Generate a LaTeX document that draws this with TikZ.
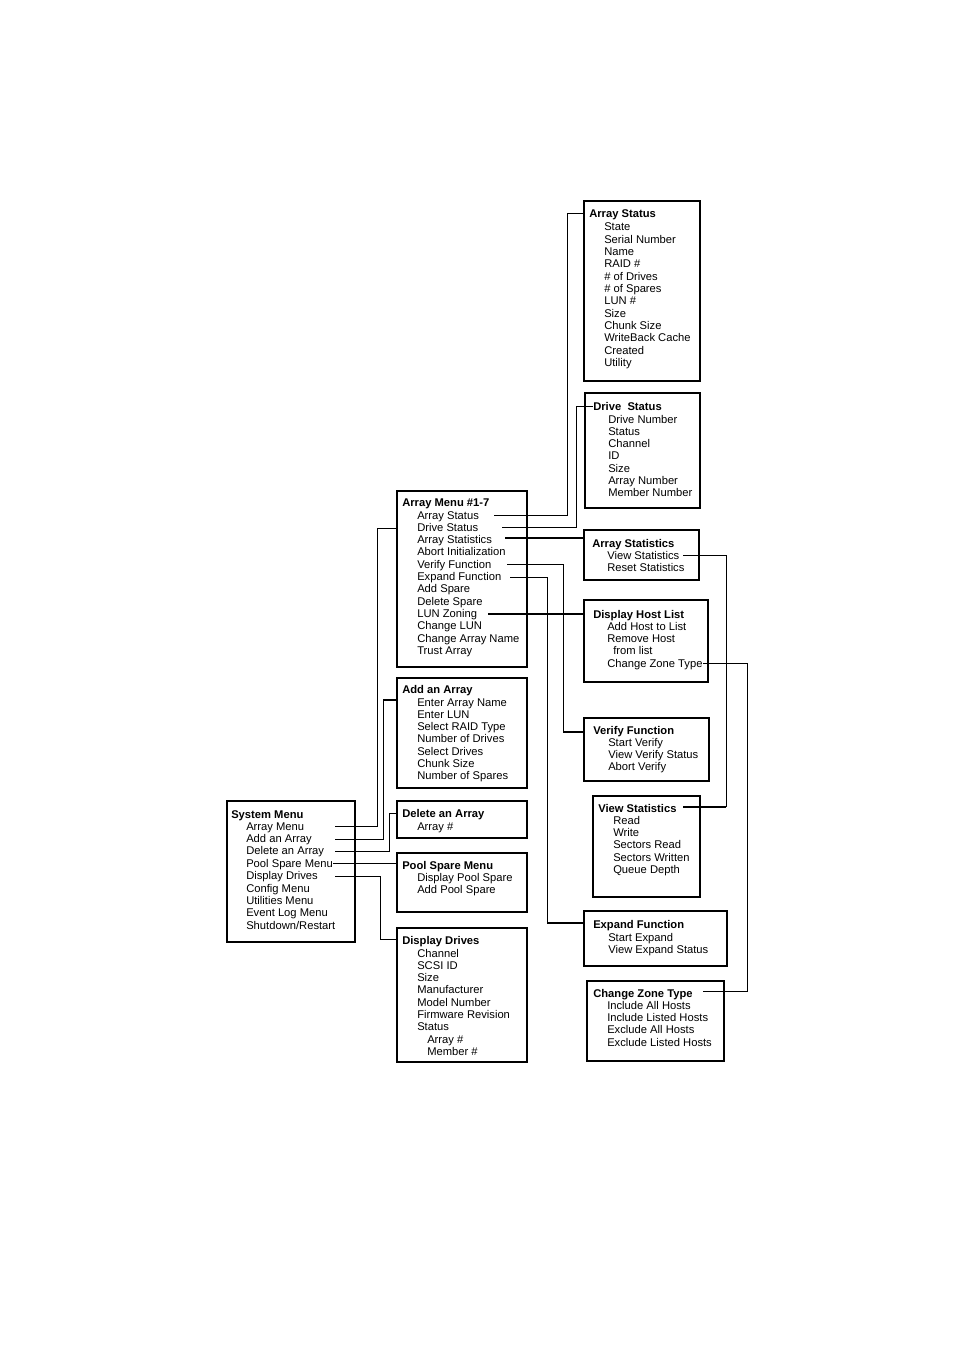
\documentclass[tikz,border=0pt]{standalone}
\usepackage{fontspec}
\setmainfont{Liberation Sans}
\newcommand\menuframe[5]{\node[box, anchor=north west, minimum width={(#4-#2)*0.75pt}, minimum height={(#5-#3)*0.75pt}] (#1) at (#2,#3) {};}
\begin{document}
\begin{tikzpicture}[x=0.75pt,y=-0.75pt,
  box/.style={draw, line width=1.4pt, inner sep=0pt, fill=none},
  ttl/.style={anchor=west, inner sep=0pt, yshift=-0.7pt, font=\fontsize{8.4}{9.2}\selectfont\bfseries, text height=6.2pt, text depth=1.6pt},
  itm/.style={anchor=west, inner sep=0pt, yshift=-0.7pt, font=\fontsize{8.4}{9.2}\selectfont, text height=6.2pt, text depth=1.6pt},
  conn/.style={line width=0.6pt},
  thk/.style={line width=1.3pt}]
\useasboundingbox (0,0) rectangle (954,1351);

% ---------- boxes ----------
\menuframe{as}{583}{200}{699}{380}
\menuframe{ds}{584}{392}{699}{507}
\menuframe{am}{396}{490}{526}{666}
\menuframe{ast}{583}{529}{698}{579}
\menuframe{dh}{583}{599}{707}{681}
\menuframe{aa}{396}{677}{526}{787}
\menuframe{vf}{583}{717}{708}{780}
\menuframe{sm}{226}{800}{354}{941}
\menuframe{da}{396}{800}{526}{837}
\menuframe{vs}{592}{795}{699}{896}
\menuframe{ps}{396}{852}{526}{911}
\menuframe{ef}{583}{910}{726}{965}
\menuframe{dd}{396}{927}{526}{1061}
\menuframe{cz}{586}{980}{723}{1060}

% ---------- texts ----------
\node[ttl] (as-t) at (589,214) {Array Status};
\foreach \t [count=\i] in {State, Serial Number, Name, RAID \#, \# of Drives, \# of Spares, LUN \#, Size, Chunk Size, WriteBack Cache, Created, Utility}
  \node[itm] (as-\i) at (604,{227+(\i-1)*12.3}) {\t};

\node[ttl] (ds-t) at (593,406) {Drive\ \ Status};
\foreach \t [count=\i] in {Drive Number, Status, Channel, ID, Size, Array Number, Member Number}
  \node[itm] (ds-\i) at (608,{419+(\i-1)*12.33}) {\t};

\node[ttl] (am-t) at (402,502) {Array Menu \#1-7};
\foreach \t [count=\i] in {Array Status, Drive Status, Array Statistics, Abort Initialization, Verify Function, Expand Function, Add Spare, Delete Spare, LUN Zoning, Change LUN, Change Array Name, Trust Array}
  \node[itm] (am-\i) at (417,{515+(\i-1)*12.3}) {\t};

\node[ttl] (ast-t) at (592,543) {Array Statistics};
\node[itm] (ast-1) at (607,555) {View Statistics};
\node[itm] (ast-2) at (607,567) {Reset Statistics};

\node[ttl] (dh-t) at (593,614) {Display Host List};
\node[itm] (dh-1) at (607,626) {Add Host to List};
\node[itm] (dh-2) at (607,638) {Remove Host};
\node[itm] (dh-3) at (613,650) {from list};
\node[itm] (dh-4) at (607,663) {Change Zone Type};

\node[ttl] (aa-t) at (402,689) {Add an Array};
\foreach \t [count=\i] in {Enter Array Name, Enter LUN, Select RAID Type, Number of Drives, Select Drives, Chunk Size, Number of Spares}
  \node[itm] (aa-\i) at (417,{702+(\i-1)*12.33}) {\t};

\node[ttl] (vf-t) at (593,730) {Verify Function};
\foreach \t [count=\i] in {Start Verify, View Verify Status, Abort Verify}
  \node[itm] (vf-\i) at (608,{742+(\i-1)*12.4}) {\t};

\node[ttl] (sm-t) at (231,814) {System Menu};
\foreach \t [count=\i] in {Array Menu, Add an Array, Delete an Array, Pool Spare Menu, Display Drives, Config Menu, Utilities Menu, Event Log Menu, Shutdown/Restart}
  \node[itm] (sm-\i) at (246,{826+(\i-1)*12.4}) {\t};

\node[ttl] (da-t) at (402,813) {Delete an Array};
\node[itm] (da-1) at (417,826) {Array \#};

\node[ttl] (vs-t) at (598,808) {View Statistics};
\foreach \t [count=\i] in {Read, Write, Sectors Read, Sectors Written, Queue Depth}
  \node[itm] (vs-\i) at (613,{820+(\i-1)*12.4}) {\t};

\node[ttl] (ps-t) at (402,865) {Pool Spare Menu};
\node[itm] (ps-1) at (417,877) {Display Pool Spare};
\node[itm] (ps-2) at (417,889) {Add Pool Spare};

\node[ttl] (ef-t) at (593,924) {Expand Function};
\node[itm] (ef-1) at (608,937) {Start Expand};
\node[itm] (ef-2) at (608,949) {View Expand Status};

\node[ttl] (dd-t) at (402,940) {Display Drives};
\foreach \t [count=\i] in {Channel, SCSI ID, Size, Manufacturer, Model Number, Firmware Revision, Status}
  \node[itm] (dd-\i) at (417,{953+(\i-1)*12.3}) {\t};
\node[itm] (dd-8) at (427,1039) {Array \#};
\node[itm] (dd-9) at (427,1051) {Member \#};

\node[ttl] (cz-t) at (593,993) {Change Zone Type};
\foreach \t [count=\i] in {Include All Hosts, Include Listed Hosts, Exclude All Hosts, Exclude Listed Hosts}
  \node[itm] (cz-\i) at (607,{1005+(\i-1)*12.4}) {\t};

% ---------- connector points ----------
\coordinate (s1) at (335,826);  \coordinate (b1) at (377,528);
\coordinate (s2) at (335,839);  \coordinate (b2) at (383,700);
\coordinate (s3) at (335,851);  \coordinate (b3) at (389,813);
\coordinate (s4) at (333,863);
\coordinate (s5) at (335,876);  \coordinate (b5) at (380,939);
\coordinate (s6) at (494,515);  \coordinate (b6) at (567,213);
\coordinate (s7) at (502,527);  \coordinate (b7) at (576,406);
\coordinate (s8) at (505,538);
\coordinate (s9) at (507,564);  \coordinate (b9) at (563,732);
\coordinate (s10) at (510,577); \coordinate (b10) at (547,923);
\coordinate (s11) at (488,614);
\coordinate (s12) at (683,555); \coordinate (b12) at (726,807); \coordinate (e12) at (683,807);
\coordinate (s13) at (703,663); \coordinate (b13) at (747,991); \coordinate (e13) at (703,991);

% ---------- connectors ----------
\draw[conn] (s1) -| (b1) -- (b1 -| am.west);
\draw[conn] (s2) -| (b2);
\draw[thk] (b2) -- (b2 -| aa.west);
\draw[conn] (s3) -| (b3) -- (b3 -| da.west);
\draw[conn] (s4) -- (s4 -| ps.west);
\draw[conn] (s5) -| (b5) -- (b5 -| dd.west);
\draw[conn] (s6) -| (b6) -- (b6 -| as.west);
\draw[conn] (s7) -| (b7) -- (b7 -| ds-t.west);
\draw[thk] (s8) -- (s8 -| ast.west);
\draw[conn] (s9) -| (b9);
\draw[thk] (b9) -- (b9 -| vf.west);
\draw[conn] (s10) -| (b10);
\draw[thk] (b10) -- (b10 -| ef.west);
\draw[thk] (s11) -- (s11 -| dh.west);
\draw[conn] (s12) -| (b12);
\draw[thk] (b12) -- (e12);
\draw[conn] (s13) -| (b13) -- (e13);
\end{tikzpicture}
\end{document}
